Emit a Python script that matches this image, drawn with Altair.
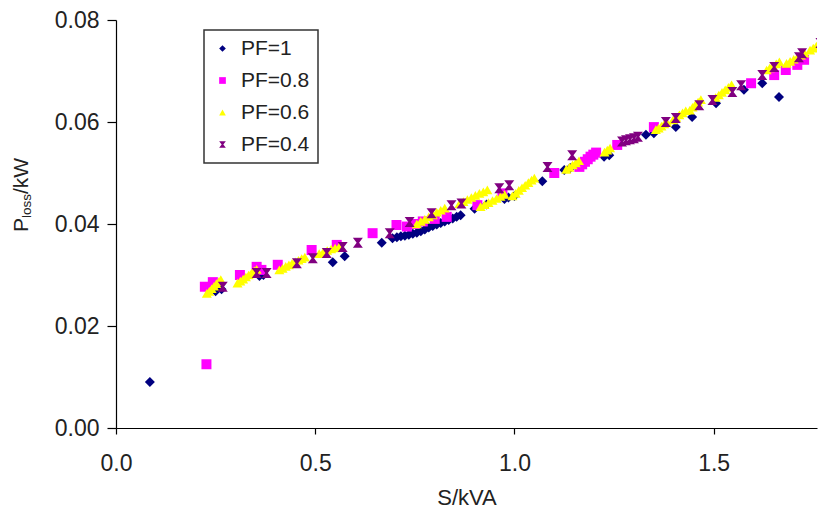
import altair as alt
import pandas as pd

# PF = 1 (navy diamonds)
pf1_s = [0.085, 0.25, 0.265, 0.36, 0.37, 0.544, 0.574, 0.667,
         0.694, 0.705, 0.715, 0.725, 0.735, 0.745, 0.755, 0.765, 0.775, 0.785, 0.795,
         0.805, 0.815, 0.825, 0.835, 0.845, 0.855, 0.865,
         0.90, 0.93, 0.975, 0.985, 1.00, 1.07, 1.125, 1.14,
         1.225, 1.238, 1.33, 1.35, 1.405, 1.446, 1.506, 1.576, 1.622, 1.664]
pf1_p = [0.0090, 0.0268, 0.0272, 0.0298, 0.0300, 0.0325, 0.0337, 0.0363,
         0.0372, 0.0374, 0.0376, 0.0377, 0.0379, 0.0381, 0.0383, 0.0386, 0.0389, 0.0393, 0.0396,
         0.0399, 0.0402, 0.0405, 0.0408, 0.0411, 0.0414, 0.0417,
         0.0430, 0.0438, 0.0449, 0.0452, 0.0455, 0.0484, 0.0506, 0.0510,
         0.0532, 0.0535, 0.0575, 0.0578, 0.0590, 0.0610, 0.0637, 0.0663, 0.0676, 0.0649]

# PF = 0.8 (magenta squares)
pf08_s = [0.227, 0.223, 0.243, 0.311, 0.353, 0.365, 0.406, 0.491, 0.554, 0.644, 0.704,
          0.73, 0.75, 0.77, 0.80, 0.83, 0.907, 0.97, 1.10,
          1.163, 1.170, 1.177, 1.184, 1.191, 1.198, 1.205,
          1.258, 1.35, 1.594, 1.652, 1.681, 1.71, 1.727]
pf08_p = [0.0125, 0.0277, 0.0286, 0.0300, 0.0316, 0.0310, 0.0320, 0.0349, 0.0359, 0.0382,
          0.0398, 0.0395, 0.0400, 0.0405, 0.0410, 0.0414, 0.0437, 0.0460, 0.0500,
          0.0512, 0.0517, 0.0522, 0.0527, 0.0532, 0.0536, 0.0540,
          0.0555, 0.0590, 0.0676, 0.0692, 0.0702, 0.0712, 0.0722]

# PF = 0.6 (yellow triangles)
pf06_s = [0.228, 0.234, 0.240, 0.246, 0.252, 0.258, 0.263,
          0.305, 0.312, 0.319, 0.326, 0.333, 0.340, 0.347, 0.353,
          0.410, 0.418, 0.426, 0.434, 0.442, 0.450, 0.458, 0.466, 0.474,
          0.510, 0.520, 0.530, 0.540, 0.550, 0.560,
          0.755, 0.765, 0.775, 0.785, 0.795, 0.805, 0.815, 0.825,
          0.862, 0.872, 0.882, 0.892, 0.902, 0.912, 0.922, 0.932,
          0.915, 0.925, 0.935, 0.945, 0.955, 0.965, 0.975,
          0.995, 1.003, 1.011, 1.019, 1.027, 1.035, 1.043, 1.050,
          1.130, 1.138, 1.146, 1.154, 1.162,
          1.226, 1.233, 1.240,
          1.355, 1.362, 1.369, 1.376, 1.383,
          1.398, 1.406, 1.414, 1.422, 1.430,
          1.440, 1.447, 1.454, 1.461, 1.468,
          1.505, 1.513, 1.521, 1.529, 1.537, 1.545,
          1.633, 1.641, 1.649, 1.657, 1.665,
          1.683, 1.692, 1.701, 1.710, 1.719, 1.728,
          1.742, 1.750, 1.758]
pf06_p = [0.0264, 0.0268, 0.0273, 0.0278, 0.0283, 0.0287, 0.0291,
          0.0284, 0.0288, 0.0292, 0.0296, 0.0300, 0.0304, 0.0308, 0.0311,
          0.0310, 0.0313, 0.0317, 0.0320, 0.0323, 0.0326, 0.0329, 0.0332, 0.0335,
          0.0342, 0.0345, 0.0348, 0.0351, 0.0353, 0.0355,
          0.0400, 0.0405, 0.0409, 0.0414, 0.0418, 0.0423, 0.0427, 0.0431,
          0.0440, 0.0444, 0.0448, 0.0452, 0.0456, 0.0460, 0.0463, 0.0467,
          0.0434, 0.0438, 0.0442, 0.0446, 0.0450, 0.0454, 0.0458,
          0.0455, 0.0460, 0.0466, 0.0471, 0.0476, 0.0481, 0.0486, 0.0490,
          0.0507, 0.0511, 0.0516, 0.0520, 0.0524,
          0.0541, 0.0545, 0.0549,
          0.0585, 0.0588, 0.0592, 0.0596, 0.0599,
          0.0604, 0.0609, 0.0614, 0.0618, 0.0622,
          0.0623, 0.0629, 0.0634, 0.0639, 0.0644,
          0.0648, 0.0653, 0.0658, 0.0663, 0.0668, 0.0673,
          0.0702, 0.0706, 0.0710, 0.0714, 0.0718,
          0.0715, 0.0719, 0.0723, 0.0727, 0.0731, 0.0735,
          0.0741, 0.0745, 0.0749]

# PF = 0.4 (purple stars)
pf04_s = [0.268, 0.353, 0.378, 0.454, 0.494, 0.529, 0.569, 0.607, 0.687, 0.737, 0.792,
          0.842, 0.867, 0.962, 0.987, 1.083, 1.145, 1.27, 1.28, 1.29, 1.30, 1.31, 1.38,
          1.405, 1.464, 1.497, 1.547, 1.569, 1.622, 1.652, 1.714, 1.722, 1.768]
pf04_p = [0.0277, 0.0304, 0.0304, 0.0323, 0.0333, 0.0343, 0.0355, 0.0363, 0.0382, 0.0404,
          0.0421, 0.0437, 0.0440, 0.0470, 0.0476, 0.0512, 0.0535, 0.0562, 0.0564, 0.0566,
          0.0568, 0.0571, 0.0600, 0.0608, 0.0633, 0.0643, 0.0659, 0.0672, 0.0692, 0.0708,
          0.0727, 0.0735, 0.0755]

series = ["PF=1", "PF=0.8", "PF=0.6", "PF=0.4"]
colors = ["#000080", "#ff00ff", "#ffff00", "#800080"]
star = "M-1,-1L1,-1L0.25,0L1,1L-1,1L-0.25,0Z"
shapes = ["diamond", "square", "triangle-up", star]

rows = []
for name, xs, ys in zip(series, [pf1_s, pf08_s, pf06_s, pf04_s], [pf1_p, pf08_p, pf06_p, pf04_p]):
    for a, b in zip(xs, ys):
        rows.append({"S": a, "P": b, "series": name})
df = pd.DataFrame(rows)
df["order"] = df["series"].map({s: i for i, s in enumerate(series)})

FONT = "Liberation Sans"
INK = "#222"

points = alt.Chart(df).mark_point(filled=True, opacity=1, size=100, clip=True).encode(
    x=alt.X("S:Q", scale=alt.Scale(domain=[0, 1.7594], nice=False),
            axis=alt.Axis(values=[0, 0.5, 1.0, 1.5], format=".1f", title="S/kVA",
                          titlePadding=12, tickSize=6, labelPadding=18, labelFlush=False)),
    y=alt.Y("P:Q", scale=alt.Scale(domain=[0, 0.08], nice=False),
            axis=alt.Axis(values=[0, 0.02, 0.04, 0.06, 0.08], format=".2f", title=None,
                          tickSize=9, labelPadding=8, labelFlush=False)),
    color=alt.Color("series:N", scale=alt.Scale(domain=series, range=colors),
                    legend=alt.Legend(title=None, orient="none", legendX=88, legendY=10)),
    shape=alt.Shape("series:N", scale=alt.Scale(domain=series, range=shapes), legend=None),
    order=alt.Order("order:Q"),
)

title_df = pd.DataFrame({"t": ["P"]})
tP = alt.Chart(title_df).mark_text(text="P", angle=270, align="left", baseline="alphabetic",
                                   fontSize=21, font=FONT, color=INK).encode(
    x=alt.value(-88), y=alt.value(212))
tLoss = alt.Chart(title_df).mark_text(text="loss", angle=270, align="left", baseline="alphabetic",
                                      fontSize=13.5, font=FONT, color=INK).encode(
    x=alt.value(-85), y=alt.value(198))
tKW = alt.Chart(title_df).mark_text(text="/kW", angle=270, align="left", baseline="alphabetic",
                                    fontSize=21, font=FONT, color=INK).encode(
    x=alt.value(-88), y=alt.value(174))

chart = alt.layer(points, tP, tLoss, tKW).properties(
    width=701, height=408,
    autosize=alt.AutoSizeParams(type="none"),
    padding={"left": 108, "top": 12, "right": 1, "bottom": 80},
).configure_view(stroke=None).configure_axis(
    domainColor="#000", domainWidth=1.2, tickColor="#000", tickWidth=1.2,
    grid=False, labelFont=FONT, labelFontSize=23, labelColor=INK,
    titleFont=FONT, titleFontSize=22, titleColor=INK, titleFontWeight="normal",
).configure_legend(
    strokeColor="#333", strokeWidth=1.5, fillColor="#ffffff", padding=8,
    labelFont=FONT, labelFontSize=21, labelColor=INK, rowPadding=10,
    symbolSize=45, labelOffset=8, symbolStrokeWidth=0,
)

chart.save("out.html", embed_options={"renderer": "svg", "actions": False})
